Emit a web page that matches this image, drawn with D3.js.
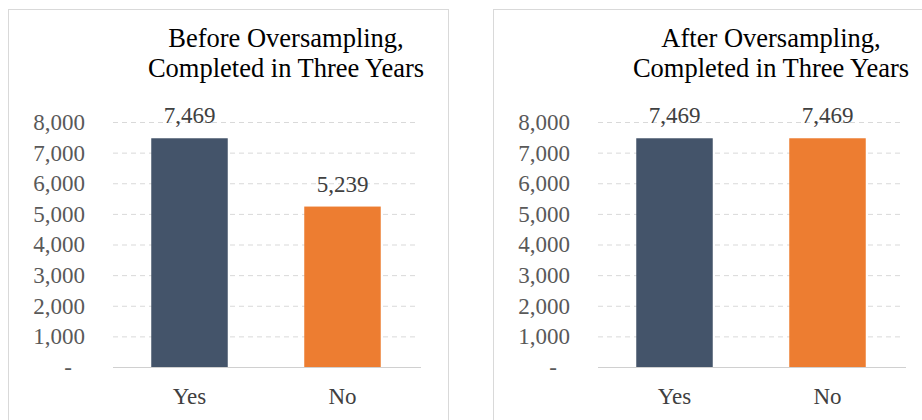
<!DOCTYPE html>
<html>
<head>
<meta charset="utf-8">
<script src="https://cdn.jsdelivr.net/npm/d3@7"></script>
<style>
  html, body { margin: 0; padding: 0; background: #fff; }
  svg { display: block; }
</style>
</head>
<body>
<svg id="chart" width="922" height="420"></svg>
<script>
// Class counts for the "completed in three years" target
const categories = ["Yes", "No"];
const beforeValues = [7469, 5239];
const afterValues = [7469, 7469];
const panelTitles = [
  ["Before Oversampling,", "Completed in Three Years"],
  ["After Oversampling,", "Completed in Three Years"]
];
const yTicks = [0, 1000, 2000, 3000, 4000, 5000, 6000, 7000, 8000];
const barColors = ["#44546a", "#ed7d31"];

const FONT = "'Liberation Serif', 'Times New Roman', serif";
const svg = d3.select("#chart");
const fmt = d3.format(",");

const panels = [
  { x: 8, values: beforeValues, title: panelTitles[0] },
  { x: 493, values: afterValues, title: panelTitles[1] }
];

panels.forEach(p => {
  const g = svg.append("g").attr("transform", `translate(${p.x},0)`);

  // chart frame
  g.append("rect")
    .attr("x", 0.5).attr("y", 9.5)
    .attr("width", 440).attr("height", 430)
    .attr("fill", "#fff").attr("stroke", "#d9d9d9");

  const left = 105, right = 411, top = 122, bottom = 367;

  const x = d3.scaleBand().domain(categories).range([left, right])
    .paddingInner(0.5).paddingOuter(0.25);
  const y = d3.scaleLinear().domain([0, 8000]).range([bottom, top]);

  // dashed gridlines
  const grid = g.append("g").attr("transform", `translate(${left},0)`)
    .call(d3.axisLeft(y).tickValues(yTicks.filter(v => v > 0))
      .tickSize(-(right - left - 3)).tickFormat(""));
  grid.select(".domain").remove();
  grid.selectAll("line")
    .attr("stroke", "#d9d9d9").attr("stroke-width", 1)
    .attr("stroke-dasharray", "5,4");

  // y axis labels
  const yAxis = g.append("g").attr("transform", `translate(${left},0)`)
    .call(d3.axisLeft(y).tickValues(yTicks).tickSize(0).tickPadding(28)
      .tickFormat(v => v === 0 ? "-" : fmt(v)));
  yAxis.select(".domain").remove();
  yAxis.selectAll("text")
    .style("font-family", FONT)
    .style("font-size", "23px").attr("fill", "#595959")
    .attr("dx", v => v === 0 ? -13 : 0);

  // bars
  g.selectAll("rect.bar").data(p.values).join("rect")
    .attr("class", "bar")
    .attr("x", (d, i) => x(categories[i]))
    .attr("width", x.bandwidth())
    .attr("y", d => y(d))
    .attr("height", d => y(0) - y(d))
    .attr("fill", (d, i) => barColors[i]);

  // baseline
  g.append("line")
    .attr("x1", left).attr("x2", right + 2)
    .attr("y1", y(0) + 0.5).attr("y2", y(0) + 0.5)
    .attr("stroke", "#d0d0d0").attr("stroke-width", 1);

  // value labels
  g.selectAll("text.val").data(p.values).join("text")
    .attr("class", "val")
    .attr("x", (d, i) => x(categories[i]) + x.bandwidth() / 2)
    .attr("y", d => y(d) - 15)
    .attr("text-anchor", "middle")
    .style("font-family", FONT)
    .style("font-size", "23px").attr("fill", "#404040")
    .text(d => fmt(d));

  // category labels
  const xAxis = g.append("g").attr("transform", `translate(0,${bottom})`)
    .call(d3.axisBottom(x).tickSize(0).tickPadding(21));
  xAxis.select(".domain").remove();
  xAxis.selectAll("text")
    .style("font-family", FONT)
    .style("font-size", "23px").attr("fill", "#404040");

  // title
  const t = g.append("text")
    .attr("text-anchor", "middle")
    .style("font-family", FONT)
    .style("font-size", "26.5px").attr("fill", "#000");
  p.title.forEach((line, i) => {
    t.append("tspan").attr("x", 278).attr("y", 47 + i * 29.5).text(line);
  });
});
</script>
</body>
</html>
